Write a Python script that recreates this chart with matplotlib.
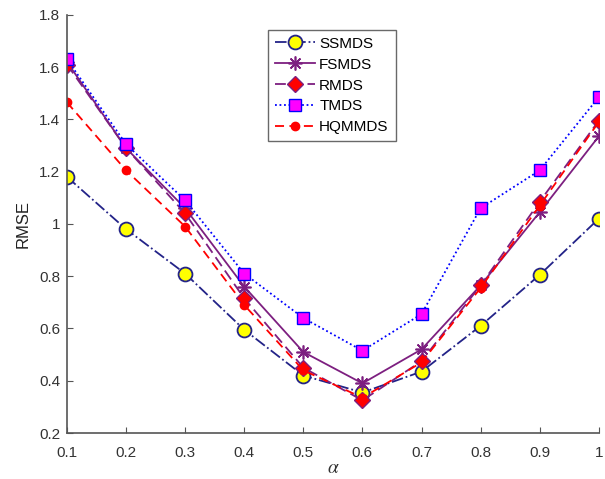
import matplotlib
matplotlib.use("Agg")
import matplotlib.pyplot as plt

plt.rcParams['font.family'] = ['Liberation Sans', 'DejaVu Sans']
plt.rcParams['mathtext.fontset'] = 'stix'

alpha = [0.1, 0.2, 0.3, 0.4, 0.5, 0.6, 0.7, 0.8, 0.9, 1.0]
ssmds = [1.18, 0.98, 0.81, 0.595, 0.42, 0.355, 0.435, 0.61, 0.805, 1.02]
fsmds = [1.62, 1.29, 1.06, 0.76, 0.51, 0.39, 0.52, 0.765, 1.045, 1.335]
rmds = [1.61, 1.29, 1.04, 0.715, 0.45, 0.325, 0.475, 0.765, 1.085, 1.395]
tmds = [1.63, 1.305, 1.09, 0.81, 0.64, 0.515, 0.655, 1.06, 1.205, 1.485]
hqmmds = [1.465, 1.205, 0.99, 0.69, 0.44, 0.335, 0.47, 0.755, 1.07, 1.39]

xticks = [0.1, 0.2, 0.3, 0.4, 0.5, 0.6, 0.7, 0.8, 0.9, 1.0]
xticklabels = ['0.1', '0.2', '0.3', '0.4', '0.5', '0.6', '0.7', '0.8', '0.9', '1']
yticks = [0.2, 0.4, 0.6, 0.8, 1.0, 1.2, 1.4, 1.6, 1.8]
yticklabels = ['0.2', '0.4', '0.6', '0.8', '1', '1.2', '1.4', '1.6', '1.8']

fig = plt.figure(figsize=(6.05, 4.79), dpi=100)
ax = fig.add_axes([0.1107, 0.096, 0.879, 0.873])

navy = '#232388'
purple = '#7d1f80'

ax.plot(alpha, ssmds, linestyle='-.', color=navy, lw=1.3, marker='o', ms=10,
        mfc='#ffff00', mec=navy, mew=1.3, label='SSMDS')
ax.plot(alpha, fsmds, linestyle='-', color=purple, lw=1.3, marker=(8, 2, 0), ms=10,
        mec=purple, mew=1.2, label='FSMDS')
ax.plot(alpha, rmds, linestyle=(0, (6, 3)), color=purple, lw=1.3, marker='D', ms=8,
        mfc='#ff0000', mec=purple, mew=1.0, label='RMDS')
ax.plot(alpha, tmds, linestyle=(0, (1, 1.5)), color='#0000ff', lw=1.3, marker='s', ms=8,
        mfc='#ff00ff', mec='#0000ff', mew=1.0, label='TMDS')
ax.plot(alpha, hqmmds, linestyle=(0, (5, 3)), color='#ff0000', lw=1.3, marker='o', ms=6,
        mfc='#ff0000', mec='#ff0000', label='HQMMDS')

ax.set_xlim(0.1, 1.0)
ax.set_ylim(0.2, 1.8)
ax.set_xticks(xticks)
ax.set_xticklabels(xticklabels)
ax.set_yticks(yticks)
ax.set_yticklabels(yticklabels)

gray = '#555555'
for s in ['top', 'right']:
    ax.spines[s].set_visible(False)
for s in ['left', 'bottom']:
    ax.spines[s].set_color(gray)
    ax.spines[s].set_linewidth(1.2)
ax.tick_params(direction='in', length=4, color=gray, labelcolor='#333333',
               labelsize=11)
ax.tick_params(axis='x', pad=9)
ax.tick_params(axis='y', pad=5)

ax.set_xlabel(r'$\alpha$', fontsize=14, color='#333333', labelpad=0)
ax.set_ylabel('RMSE', fontsize=12, color='#222222', labelpad=6)

leg = ax.legend(loc='upper left', bbox_to_anchor=(0.378, 0.964), fontsize=11,
                frameon=True, fancybox=False, edgecolor='#444444',
                handlelength=2.6, handletextpad=0.3, borderpad=0.45,
                labelspacing=0.45, borderaxespad=0)
leg.get_frame().set_linewidth(1.0)

fig.savefig('out.png', dpi=100)
